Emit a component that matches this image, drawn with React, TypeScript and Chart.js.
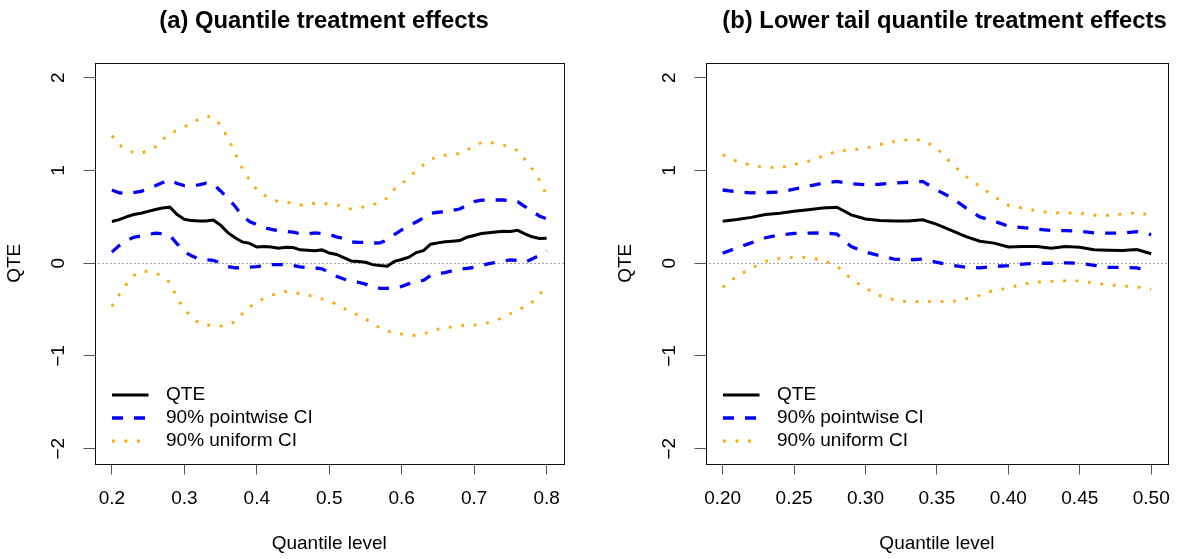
import React, { useEffect, useRef } from "react";
import { Chart, registerables } from "chart.js";

Chart.register(...registerables);

// ---------- data ----------
const quantilesA = [
  0.2, 0.21, 0.22, 0.23, 0.24, 0.25, 0.26, 0.27, 0.28, 0.29,
  0.3, 0.31, 0.32, 0.33, 0.34, 0.35, 0.36, 0.37, 0.38, 0.39,
  0.4, 0.41, 0.42, 0.43, 0.44, 0.45, 0.46, 0.47, 0.48, 0.49,
  0.5, 0.51, 0.52, 0.53, 0.54, 0.55, 0.56, 0.57, 0.58, 0.59,
  0.6, 0.61, 0.62, 0.63, 0.64, 0.65, 0.66, 0.67, 0.68, 0.69,
  0.7, 0.71, 0.72, 0.73, 0.74, 0.75, 0.76, 0.77, 0.78, 0.79, 0.8,
];
const qteA = [
  0.45, 0.47, 0.5, 0.525, 0.54, 0.56, 0.58, 0.595, 0.605, 0.525,
  0.475, 0.46, 0.455, 0.455, 0.467, 0.41, 0.33, 0.275, 0.23, 0.215,
  0.175, 0.18, 0.175, 0.162, 0.172, 0.17, 0.145, 0.14, 0.136, 0.144,
  0.11, 0.095, 0.06, 0.025, 0.02, 0.01, -0.015, -0.025, -0.032, 0.02,
  0.04, 0.065, 0.115, 0.136, 0.205, 0.22, 0.232, 0.238, 0.245, 0.28,
  0.3, 0.32, 0.33, 0.337, 0.345, 0.342, 0.355, 0.318, 0.285, 0.268, 0.27,
];
const pointwiseUpperA = [
  0.79, 0.76, 0.755, 0.762, 0.775, 0.8, 0.835, 0.87, 0.898, 0.86,
  0.837, 0.838, 0.845, 0.865, 0.855, 0.78, 0.7, 0.615, 0.51, 0.45,
  0.415, 0.385, 0.365, 0.352, 0.345, 0.335, 0.32, 0.315, 0.327, 0.32,
  0.31, 0.285, 0.265, 0.23, 0.226, 0.225, 0.218, 0.22, 0.25, 0.31,
  0.36, 0.405, 0.445, 0.49, 0.54, 0.55, 0.555, 0.57, 0.585, 0.625,
  0.665, 0.68, 0.682, 0.682, 0.682, 0.672, 0.665, 0.612, 0.56, 0.51, 0.48,
];
const pointwiseLowerA = [
  0.12, 0.19, 0.245, 0.28, 0.295, 0.31, 0.325, 0.32, 0.3, 0.21,
  0.125, 0.08, 0.047, 0.037, 0.03, 0.005, -0.035, -0.05, -0.047, -0.043,
  -0.036, -0.025, -0.015, -0.014, -0.015, -0.025, -0.04, -0.048, -0.05, -0.06,
  -0.1, -0.14, -0.17, -0.19, -0.205, -0.225, -0.255, -0.27, -0.27, -0.265,
  -0.25, -0.22, -0.195, -0.185, -0.13, -0.11, -0.1, -0.08, -0.065, -0.055,
  -0.045, -0.025, -0.005, 0.01, 0.025, 0.036, 0.03, 0.01, 0.045, 0.085, 0.135,
];
const uniformUpperA = [
  1.376, 1.28, 1.22, 1.195, 1.185, 1.215, 1.255, 1.335, 1.395, 1.435,
  1.47, 1.515, 1.555, 1.585, 1.575, 1.49, 1.35, 1.19, 1.02, 0.9,
  0.795, 0.735, 0.695, 0.665, 0.66, 0.645, 0.628, 0.64, 0.647, 0.647,
  0.64, 0.63, 0.61, 0.585, 0.595, 0.61, 0.63, 0.66, 0.705, 0.8,
  0.86, 0.92, 1.0, 1.06, 1.12, 1.155, 1.165, 1.175, 1.182, 1.22,
  1.27, 1.3, 1.305, 1.29, 1.275, 1.255, 1.215, 1.12, 1.02, 0.9, 0.73,
];
const uniformLowerA = [
  -0.467, -0.34, -0.23, -0.133, -0.09, -0.088, -0.105, -0.14, -0.21, -0.37,
  -0.5, -0.58, -0.645, -0.665, -0.675, -0.678, -0.665, -0.63, -0.545, -0.47,
  -0.425, -0.375, -0.345, -0.32, -0.305, -0.31, -0.33, -0.345, -0.36, -0.385,
  -0.41, -0.44, -0.485, -0.525, -0.56, -0.6, -0.645, -0.7, -0.73, -0.755,
  -0.765, -0.775, -0.78, -0.76, -0.74, -0.71, -0.695, -0.688, -0.68, -0.665,
  -0.668, -0.66, -0.64, -0.615, -0.585, -0.545, -0.5, -0.475, -0.42, -0.34, -0.24,
];

const quantilesB = [
  0.2, 0.21, 0.22, 0.23, 0.24, 0.25, 0.26, 0.27, 0.28, 0.29,
  0.3, 0.31, 0.32, 0.33, 0.34, 0.35, 0.36, 0.37, 0.38, 0.39,
  0.4, 0.41, 0.42, 0.43, 0.44, 0.45, 0.46, 0.47, 0.48, 0.49, 0.5,
];
const qteB = [
  0.453, 0.472, 0.495, 0.525, 0.54, 0.56, 0.576, 0.595, 0.604, 0.522,
  0.477, 0.46, 0.455, 0.455, 0.468, 0.42, 0.355, 0.29, 0.237, 0.217,
  0.175, 0.18, 0.18, 0.162, 0.18, 0.172, 0.145, 0.14, 0.137, 0.147, 0.102,
];
const pointwiseUpperB = [
  0.79, 0.772, 0.76, 0.763, 0.768, 0.8, 0.83, 0.865, 0.882, 0.858,
  0.848, 0.852, 0.865, 0.874, 0.883, 0.79, 0.71, 0.6, 0.5, 0.455,
  0.4, 0.385, 0.368, 0.353, 0.352, 0.345, 0.328, 0.324, 0.325, 0.34, 0.31,
];
const pointwiseLowerB = [
  0.108, 0.165, 0.22, 0.275, 0.305, 0.322, 0.325, 0.327, 0.315, 0.18,
  0.12, 0.08, 0.045, 0.036, 0.045, 0.01, -0.022, -0.043, -0.05, -0.035,
  -0.025, -0.01, 0.0, 0.0, 0.004, 0.0, -0.022, -0.043, -0.045, -0.05, -0.09,
];
const uniformUpperB = [
  1.17, 1.1, 1.055, 1.035, 1.03, 1.065, 1.1, 1.155, 1.21, 1.222,
  1.24, 1.28, 1.313, 1.333, 1.33, 1.24, 1.08, 0.94, 0.83, 0.72,
  0.625, 0.594, 0.565, 0.545, 0.543, 0.54, 0.518, 0.518, 0.53, 0.543, 0.52,
];
const uniformLowerB = [
  -0.26, -0.14, -0.055, 0.02, 0.052, 0.065, 0.062, 0.035, -0.03, -0.17,
  -0.27, -0.35, -0.395, -0.417, -0.412, -0.415, -0.415, -0.385, -0.345, -0.29,
  -0.27, -0.225, -0.203, -0.195, -0.19, -0.19, -0.216, -0.232, -0.246, -0.255, -0.28,
];

const xTicksA = [0.2, 0.3, 0.4, 0.5, 0.6, 0.7, 0.8];
const xTickLabelsA = ["0.2", "0.3", "0.4", "0.5", "0.6", "0.7", "0.8"];
const xTicksB = [0.2, 0.25, 0.3, 0.35, 0.4, 0.45, 0.5];
const xTickLabelsB = ["0.20", "0.25", "0.30", "0.35", "0.40", "0.45", "0.50"];
const yTicks = [-2, -1, 0, 1, 2];
const yTickLabels = ["\u22122", "\u22121", "0", "1", "2"];
const seriesLabels = ["QTE", "90% pointwise CI", "90% uniform CI"];
const titleA = "(a) Quantile treatment effects";
const titleB = "(b) Lower tail quantile treatment effects";
const xAxisTitle = "Quantile level";
const yAxisTitle = "QTE";

// ---------- styling ----------
const FONT = "'Liberation Sans', Arial, Helvetica, sans-serif";
const CANVAS_H = 559;
const AREA_TOP = 63;
const AREA_BOTTOM = 463.5;
const AREA_LEFT = 94.5;
const AREA_RIGHT = 564;

const decorPlugin = {
  id: "decor",
  beforeDatasetsDraw(chart: any) {
    const { ctx, chartArea: a } = chart;
    const y = chart.scales.y;
    const y0 = Math.round(y.getPixelForValue(0)) + 0.5;
    ctx.save();
    ctx.strokeStyle = "#444";
    ctx.lineWidth = 1;
    ctx.setLineDash([1, 3]);
    ctx.beginPath();
    ctx.moveTo(a.left, y0);
    ctx.lineTo(a.right, y0);
    ctx.stroke();
    ctx.restore();
  },
  afterDraw(chart: any, _args: any, opts: any) {
    const { ctx, chartArea: a } = chart;
    ctx.save();
    // box
    ctx.strokeStyle = "#111";
    ctx.lineWidth = 1;
    ctx.setLineDash([]);
    ctx.strokeRect(
      Math.round(a.left) + 0.5,
      Math.round(a.top) + 0.5,
      Math.round(a.right) - Math.round(a.left),
      Math.round(a.bottom) - Math.round(a.top)
    );
    // legend
    const rows = [a.bottom - 68.5, a.bottom - 45.5, a.bottom - 22.5];
    const dsIdx = [0, 1, 3];
    ctx.font = `19px ${FONT}`;
    ctx.textBaseline = "middle";
    ctx.textAlign = "left";
    dsIdx.forEach((di, i) => {
      const ds = chart.data.datasets[di];
      ctx.strokeStyle = ds.borderColor;
      ctx.lineWidth = ds.borderWidth;
      ctx.setLineDash(ds.borderDash || []);
      ctx.lineCap = "butt";
      ctx.beginPath();
      ctx.moveTo(a.left + 17.5, rows[i]);
      ctx.lineTo(a.left + 54, rows[i]);
      ctx.stroke();
      ctx.fillStyle = "#000";
      ctx.fillText(seriesLabels[i], a.left + 71.5, rows[i]);
    });
    // title
    ctx.font = `bold 23.8px ${FONT}`;
    ctx.textAlign = "center";
    ctx.textBaseline = "alphabetic";
    ctx.fillStyle = "#000";
    ctx.fillText(opts.title, opts.titleX, 27.5);
    ctx.restore();
  },
};

function buildConfig(p: any, width: number): any {
  const mk = (label: string, ys: number[], color: string, w: number, dash: number[]) => ({
    label,
    data: p.xs.map((x: number, i: number) => ({ x, y: ys[i] })),
    borderColor: color,
    backgroundColor: color,
    borderWidth: w,
    borderDash: dash,
    borderCapStyle: "butt",
    pointRadius: 0,
    tension: 0,
    fill: false,
  });
  const tickFont = { family: FONT, size: 19 };
  return {
    type: "line",
    data: {
      datasets: [
        mk(seriesLabels[0], p.qte, "#000000", 3, []),
        mk(seriesLabels[1], p.pwU, "#0000FF", 3.3, [11, 11]),
        mk(seriesLabels[1], p.pwL, "#0000FF", 3.3, [11, 11]),
        mk(seriesLabels[2], p.unU, "#FFA500", 2.8, [2.8, 9.7]),
        mk(seriesLabels[2], p.unL, "#FFA500", 2.8, [2.8, 9.7]),
      ],
    },
    options: {
      responsive: false,
      animation: false,
      devicePixelRatio: window.devicePixelRatio || 1,
      layout: { padding: { left: 0, top: AREA_TOP, right: width - AREA_RIGHT, bottom: 0 } },
      plugins: {
        legend: { display: false },
        tooltip: { enabled: false },
        title: { display: false },
        decor: { title: p.title, titleX: p.titleX },
      },
      scales: {
        x: {
          type: "linear",
          min: p.xmin,
          max: p.xmax,
          afterBuildTicks: (s: any) => {
            s.ticks = p.xTicks.map((v: number) => ({ value: v }));
          },
          afterFit: (s: any) => {
            s.height = CANVAS_H - AREA_BOTTOM;
          },
          grid: { display: true, drawOnChartArea: false, drawTicks: true, tickLength: 11, color: "#555" },
          border: { display: false },
          ticks: {
            autoSkip: false,
            maxRotation: 0,
            minRotation: 0,
            padding: 13,
            color: "#000",
            font: tickFont,
            callback: (_v: any, i: number) => p.xLabels[i],
          },
          title: {
            display: true,
            text: xAxisTitle,
            color: "#000",
            font: tickFont,
            padding: { top: 0, bottom: 3.6 },
          },
        },
        y: {
          type: "linear",
          min: -2.16,
          max: 2.16,
          afterBuildTicks: (s: any) => {
            s.ticks = yTicks.map((v) => ({ value: v }));
          },
          afterFit: (s: any) => {
            s.width = AREA_LEFT;
          },
          grid: { display: true, drawOnChartArea: false, drawTicks: true, tickLength: 11, color: "#555" },
          border: { display: false },
          ticks: {
            minRotation: 90,
            maxRotation: 90,
            crossAlign: "center",
            padding: 14,
            color: "#000",
            font: tickFont,
            callback: (_v: any, i: number) => yTickLabels[i],
          },
          title: {
            display: true,
            text: yAxisTitle,
            color: "#000",
            font: tickFont,
            padding: { top: 3.6, bottom: 0 },
          },
        },
      },
    },
    plugins: [decorPlugin],
  };
}

const panelA = {
  xs: quantilesA,
  qte: qteA,
  pwU: pointwiseUpperA,
  pwL: pointwiseLowerA,
  unU: uniformUpperA,
  unL: uniformLowerA,
  xmin: 0.176,
  xmax: 0.824,
  xTicks: xTicksA,
  xLabels: xTickLabelsA,
  title: titleA,
  titleX: 324,
};
const panelB = {
  xs: quantilesB,
  qte: qteB,
  pwU: pointwiseUpperB,
  pwL: pointwiseLowerB,
  unU: uniformUpperB,
  unL: uniformLowerB,
  xmin: 0.188,
  xmax: 0.512,
  xTicks: xTicksB,
  xLabels: xTickLabelsB,
  title: titleB,
  titleX: 333.5,
};

function Panel({ cfg, left, width }: { cfg: any; left: number; width: number }) {
  const ref = useRef<HTMLCanvasElement>(null);
  useEffect(() => {
    const chart = new Chart(ref.current as HTMLCanvasElement, buildConfig(cfg, width));
    return () => chart.destroy();
  }, [cfg, width]);
  return (
    <canvas
      ref={ref}
      width={width}
      height={CANVAS_H}
      style={{ position: "absolute", left, top: 0, width, height: CANVAS_H }}
    />
  );
}

export default function App() {
  return (
    <div
      style={{
        position: "absolute",
        left: 0,
        top: 0,
        width: 1183,
        height: CANVAS_H,
        background: "#fff",
        overflow: "hidden",
      }}
    >
      <Panel cfg={panelA} left={0} width={600} />
      <Panel cfg={panelB} left={611} width={572} />
    </div>
  );
}
